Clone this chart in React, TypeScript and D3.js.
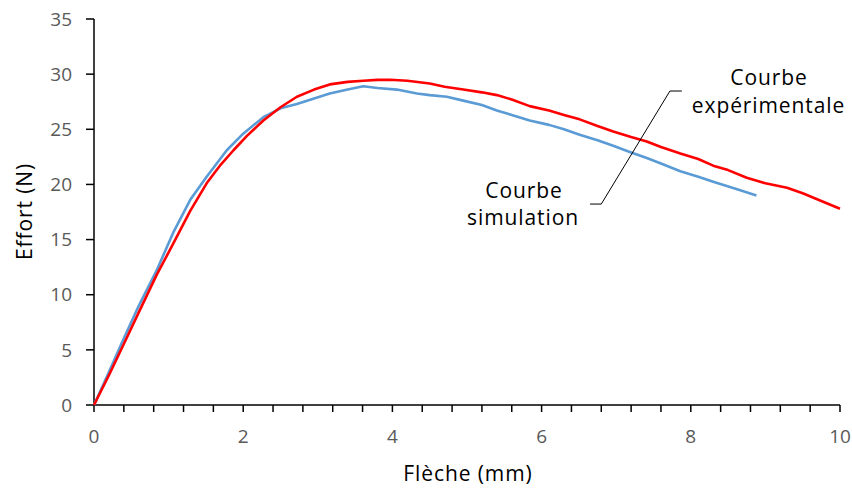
import React from "react";
import * as d3 from "d3";

const expX = [0, 0.2, 0.39, 0.6, 0.84, 1.06, 1.29, 1.51, 1.7, 1.87, 2.05, 2.27, 2.5, 2.72, 2.95, 3.16, 3.4, 3.61, 3.8, 3.97, 4.2, 4.5, 4.7, 4.95, 5.2, 5.4, 5.6, 5.84, 6.1, 6.3, 6.51, 6.75, 6.96, 7.2, 7.41, 7.6, 7.86, 8.1, 8.3, 8.5, 8.75, 9.0, 9.29, 9.5, 9.75, 10];
const expY = [0, 2.7, 5.4, 8.4, 11.8, 14.6, 17.6, 20.1, 21.8, 23.1, 24.4, 25.8, 27.0, 27.95, 28.6, 29.07, 29.3, 29.4, 29.48, 29.49, 29.4, 29.15, 28.85, 28.6, 28.35, 28.1, 27.7, 27.1, 26.7, 26.3, 25.9, 25.3, 24.8, 24.3, 23.9, 23.4, 22.8, 22.3, 21.7, 21.3, 20.6, 20.1, 19.7, 19.2, 18.5, 17.8];

const simX = [0, 0.2, 0.39, 0.6, 0.84, 1.06, 1.29, 1.51, 1.78, 2.0, 2.27, 2.5, 2.72, 2.95, 3.16, 3.4, 3.61, 3.8, 4.06, 4.33, 4.5, 4.73, 4.95, 5.2, 5.4, 5.6, 5.84, 6.1, 6.3, 6.51, 6.75, 6.96, 7.2, 7.41, 7.6, 7.86, 8.1, 8.3, 8.6, 8.88];
const simY = [0, 3.0, 5.9, 9.0, 12.2, 15.6, 18.6, 20.7, 23.1, 24.6, 26.1, 26.9, 27.3, 27.8, 28.25, 28.6, 28.9, 28.75, 28.6, 28.25, 28.1, 27.95, 27.6, 27.2, 26.7, 26.3, 25.8, 25.4, 25.0, 24.5, 24.0, 23.5, 22.9, 22.4, 21.9, 21.2, 20.7, 20.25, 19.6, 19.0];

const xTicks = [0, 2, 4, 6, 8, 10];
const xMinor = d3.range(0, 10.001, 0.4);
const yTicks = [0, 5, 10, 15, 20, 25, 30, 35];

const leaderX = [7.88, 7.72, 6.8, 6.65];
const leaderY = [28.47, 28.47, 18.22, 18.22];

const FONT = "'Open Sans', 'Noto Sans', sans-serif";

export default function App() {
  const W = 852, H = 488;
  const x = d3.scaleLinear().domain([0, 10]).range([94, 840]);
  const y = d3.scaleLinear().domain([0, 35]).range([405, 19]);
  const line = d3.line<[number, number]>().x(d => x(d[0])).y(d => y(d[1]));
  const expPts = expX.map((v, i) => [v, expY[i]] as [number, number]);
  const simPts = simX.map((v, i) => [v, simY[i]] as [number, number]);
  const leadPts = leaderX.map((v, i) => [v, leaderY[i]] as [number, number]);
  const lab = { fontSize: 21, letterSpacing: 0.9, fill: "#000" };

  return (
    <svg width={W} height={H} style={{ position: "absolute", left: 0, top: 0, background: "#fff" }} fontFamily={FONT}>
      <rect width={W} height={H} fill="#fff" />
      <line x1={x(0)} x2={x(0)} y1={y(35)} y2={y(0)} stroke="#000" strokeWidth={1.5} />
      <line x1={x(0)} x2={x(10)} y1={y(0)} y2={y(0)} stroke="#000" strokeWidth={1.5} />
      {yTicks.map(t => (
        <g key={"y" + t}>
          <line x1={x(0) - 8} x2={x(0)} y1={y(t)} y2={y(t)} stroke="#000" strokeWidth={1.5} />
          <text x={72} y={y(t)} dy="0.35em" textAnchor="end" fontSize={19} fill="#595959">{t}</text>
        </g>
      ))}
      {xMinor.map((t, i) => (
        <line key={"xm" + i} x1={x(t)} x2={x(t)} y1={y(0)} y2={y(0) + 7} stroke="#000" strokeWidth={1.5} />
      ))}
      {xTicks.map(t => (
        <text key={"x" + t} x={x(t)} y={443} textAnchor="middle" fontSize={19} fill="#595959">{t}</text>
      ))}
      <text x={468} y={481} textAnchor="middle" {...lab}>Flèche (mm)</text>
      <text transform={`translate(32,211.5) rotate(-90)`} textAnchor="middle" {...lab}>Effort (N)</text>

      <path d={line(simPts) || ""} fill="none" stroke="#5B9BD5" strokeWidth={2.6} strokeLinejoin="round" />
      <path d={line(expPts) || ""} fill="none" stroke="#FF0000" strokeWidth={2.6} strokeLinejoin="round" />

      <path d={line(leadPts) || ""} fill="none" stroke="#000" strokeWidth={1} />
      <text x={769} y={85} textAnchor="middle" {...lab}>Courbe</text>
      <text x={768.5} y={113} textAnchor="middle" {...lab}>expérimentale</text>
      <text x={524} y={198} textAnchor="middle" {...lab}>Courbe</text>
      <text x={523} y={225} textAnchor="middle" {...lab}>simulation</text>
    </svg>
  );
}
